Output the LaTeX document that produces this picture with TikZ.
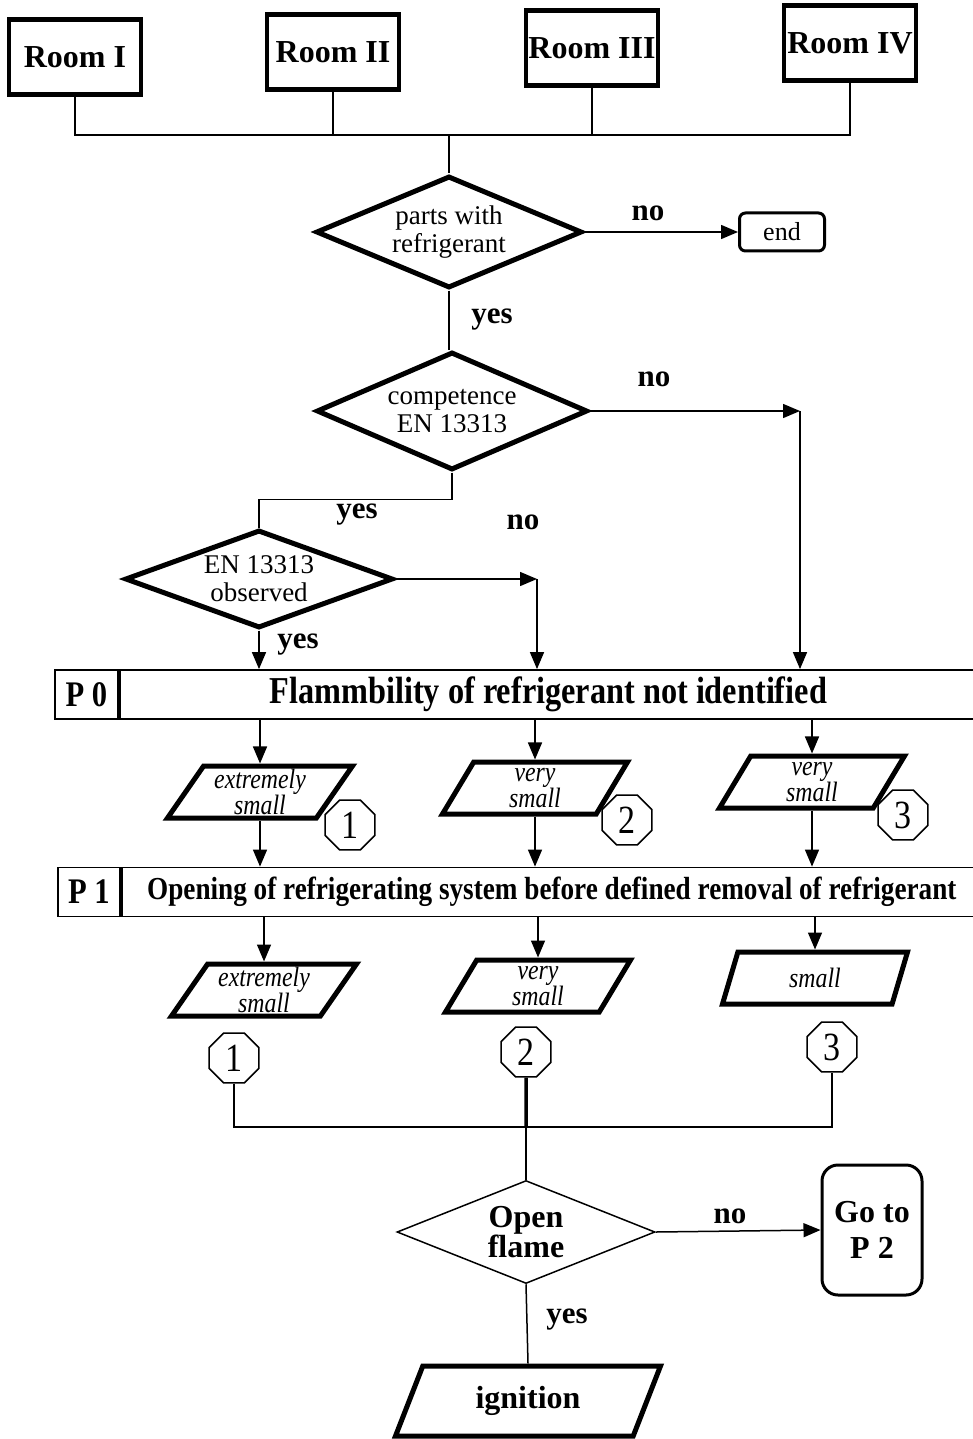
\documentclass[tikz,border=0pt]{standalone}
\usepackage{fontspec}
\setmainfont{Liberation Serif}
\newfontfamily\condfont[FakeStretch=0.85]{Liberation Serif}
\usetikzlibrary{shapes.geometric,arrows.meta}

\newcommand\tightlines{\lineskiplimit=-20pt\relax}

\tikzset{
  thinline/.style={line width=1.5},
  arr/.style={thinline,-{Triangle[length=17,width=14]}},
  room/.style={draw,line width=4.5,minimum width=132,minimum height=75,inner sep=0,
    font=\bfseries\fontsize{32}{36}\selectfont},
  decision/.style={diamond,draw,line width=5,aspect=2.4,inner sep=0,align=center,
    font=\fontsize{27}{28}\selectfont\tightlines},
  lbl/.style={font=\bfseries\fontsize{31}{34}\selectfont,inner sep=0},
  bar/.style={draw,line width=1.8,minimum height=49,inner sep=0},
  para/.style={trapezium,trapezium left angle=52,trapezium right angle=128,
    trapezium stretches body,draw,line width=5,minimum width=185,minimum height=52,
    inner sep=0,align=center,
    font=\condfont\itshape\fontsize{28}{26.5}\selectfont},
  octo/.style={regular polygon,regular polygon sides=8,draw,line width=1.5,
    minimum size=54,inner sep=0,font=\condfont\fontsize{40}{40}\selectfont},
  terminal/.style={draw,line width=3,rounded corners=6,minimum width=85,
    minimum height=38,inner sep=0,font=\fontsize{26}{28}\selectfont},
}

\begin{document}
\begin{tikzpicture}[x=1pt,y=-1pt]
\useasboundingbox (0,0) rectangle (972,1439);

% rooms and collecting line
\node[room] (r1) at (75,57) {Room I};
\node[room] (r2) at (333,52) {Room II};
\node[room] (r3) at (592,48) {Room III};
\node[room] (r4) at (850,43) {Room IV};
\coordinate (bus) at (449,135);
\draw[thinline] (r1.south) -- (r1.south |- bus) -- (r4.south |- bus) -- (r4.south);
\draw[thinline] (r2.south) -- (r2.south |- bus);
\draw[thinline] (r3.south) -- (r3.south |- bus);

% decisions
\node[decision,minimum width=266,minimum height=112] (d1) at (449,232) {parts with\\refrigerant};
\node[terminal] (end) at (782,232) {end};
\node[decision,minimum width=271,minimum height=118] (d2) at (452,411) {competence\\EN 13313};
\node[decision,minimum width=268,minimum height=98] (d3) at (259,579) {EN 13313\\observed};
\coordinate (c1) at (800,411);
\coordinate (c2) at (537,579);

\draw[thinline] (bus) -- (d1.north);
\draw[arr] (d1.east) -- (end.west);
\draw[thinline] (d1.south) -- (d1.south |- d2.north);
\draw[arr] (d2.east) -- (c1);
\draw[thinline] (d2.south) -- ++(0,27) -| (d3.north);
\draw[arr] (d3.east) -- (c2);

\node[lbl] (no1) at (648,213) {no};
\node[lbl] (yes1) at (492,320) {yes};
\node[lbl] (no2) at (654,379) {no};
\node[lbl] (yes2) at (357,515) {yes};
\node[lbl] (no3) at (523,522) {no};
\node[lbl] (yes3) at (298,645) {yes};

% P 0
\node[bar,minimum width=63,font=\condfont\bfseries\fontsize{36}{38}\selectfont] (p0n) at (86.5,694.5) {P 0};
\node[bar,anchor=west,minimum width=857,font=\condfont\bfseries\fontsize{38}{40}\selectfont] (p0) at (p0n.east)
  {Flammbility of refrigerant not identified};
\draw[arr] (d3.south) -- (d3.south |- p0.north);
\draw[arr] (c2) -- (c2 |- p0.north);
\draw[arr] (c1) -- (c1 |- p0.north);

\node[para] (a1) at (260,792) {extremely\\small};
\node[para] (b1) at (535,788) {very\\small};
\node[para] (c1p) at (812,782) {very\\small};
\node[octo] (oa1) at (350,825) {1};
\node[octo] (ob1) at (627,820) {2};
\node[octo] (oc1) at (903,815) {3};
\draw[arr] (p0.south -| a1.north) -- (a1.north);
\draw[arr] (p0.south -| b1.north) -- (b1.north);
\draw[arr] (p0.south -| c1p.north) -- (c1p.north);

% P 1
\node[bar,minimum width=62,font=\condfont\bfseries\fontsize{36}{38}\selectfont] (p1n) at (89,892) {P 1};
\node[bar,anchor=west,minimum width=860,font=\condfont\bfseries\fontsize{32}{34}\selectfont] (p1) at (p1n.east)
  {Opening of refrigerating system before defined removal of refrigerant};
\draw[arr] (a1.south) -- (a1.south |- p1.north);
\draw[arr] (b1.south) -- (b1.south |- p1.north);
\draw[arr] (c1p.south) -- (c1p.south |- p1.north);

\node[para] (a2) at (264,990) {extremely\\small};
\node[para] (b2) at (538,986) {very\\small};
\node[para] (c2p) at (815,978) {small};
\draw[arr] (p1.south -| a2.north) -- (a2.north);
\draw[arr] (p1.south -| b2.north) -- (b2.north);
\draw[arr] (p1.south -| c2p.north) -- (c2p.north);

\node[octo] (oa2) at (234,1058) {1};
\node[octo] (ob2) at (526,1052) {2};
\node[octo] (oc2) at (832,1047) {3};
\coordinate (jn) at (526,1127);
\draw[thinline] (oa2.south) |- (jn) -| (oc2.south);
\draw[line width=3.5] (ob2.south) -- (jn);

% open flame
\node[decision,line width=1.5,minimum width=258,minimum height=103,
  font=\bfseries\fontsize{32}{30}\selectfont\tightlines] (d4) at (526,1232) {Open\\flame};
\node[draw,line width=3,rounded corners=16,minimum width=100,minimum height=130,inner sep=0,
  align=center,font=\bfseries\fontsize{32}{36}\selectfont] (go) at (872,1230) {Go to\\P 2};
\node[trapezium,trapezium left angle=47,trapezium right angle=133,trapezium stretches body,
  draw,line width=5,minimum width=265,minimum height=70,inner sep=0,
  font=\bfseries\fontsize{32}{34}\selectfont] (ign) at (528,1401) {ignition};
\draw[thinline] (jn) -- (d4.north);
\draw[arr] (d4.east) -- (go.west);
\draw[thinline] (d4.south) -- (ign.north);
\node[lbl] (no4) at (730,1216) {no};
\node[lbl] (yes4) at (567,1320) {yes};
\end{tikzpicture}
\end{document}
